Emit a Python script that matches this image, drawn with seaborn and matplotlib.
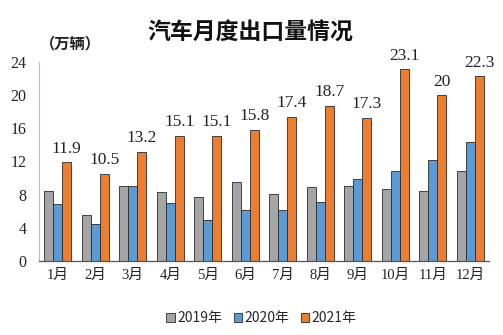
import matplotlib
matplotlib.use("Agg")
import matplotlib.pyplot as plt
import seaborn as sns
import pandas as pd
from matplotlib.patches import Patch

months = ["1月", "2月", "3月", "4月", "5月", "6月", "7月", "8月", "9月", "10月", "11月", "12月"]
years = ["2019年", "2020年", "2021年"]
v2019 = [8.4, 5.6, 9.0, 8.3, 7.7, 9.5, 8.1, 8.9, 9.0, 8.7, 8.4, 10.8]
v2020 = [6.9, 4.5, 9.1, 7.0, 5.0, 6.2, 6.2, 7.1, 9.9, 10.9, 12.2, 14.4]
v2021 = [11.9, 10.5, 13.2, 15.1, 15.1, 15.8, 17.4, 18.7, 17.3, 23.1, 20, 22.3]
labels2021 = ["11.9", "10.5", "13.2", "15.1", "15.1", "15.8", "17.4", "18.7", "17.3", "23.1", "20", "22.3"]
yticks = [0, 4, 8, 12, 16, 20, 24]
colors = ["#a5a5a5", "#5b9bd5", "#ed7d31"]

sns.set_style("white")
cjk = ["Noto Sans CJK SC", "DejaVu Sans"]
plt.rcParams["font.family"] = cjk

rows = []
for y, vals in zip(years, [v2019, v2020, v2021]):
    for m, v in zip(months, vals):
        rows.append({"month": m, "year": y, "value": v})
df = pd.DataFrame(rows)

fig = plt.figure(figsize=(5.03, 3.35), dpi=100)
ax = fig.add_axes([0.0775, 0.221, 0.8945, 0.594])
sns.barplot(data=df, x="month", y="value", hue="year", palette=colors,
            width=0.72, gap=0, edgecolor="#2a2a2a", linewidth=0.6,
            ax=ax, legend=False, saturation=1)

ax.set_xlim(-0.5, 11.5)
ax.set_ylim(0, 24)
ax.set_yticks(yticks)
ax.set_yticklabels([str(t) for t in yticks], family=["Liberation Serif"], fontsize=11.5, color="#222222")
ax.set_xticks(range(len(months)))
ax.set_xticklabels(months, fontsize=10.5, color="#222222", family=["Liberation Serif", "Noto Sans CJK SC"])
ax.tick_params(axis="y", length=0, pad=9)
ax.tick_params(axis="x", length=0, pad=6)
ax.set_xlabel("")
ax.set_ylabel("")
for s in ["top", "right"]:
    ax.spines[s].set_visible(False)
ax.spines["left"].set_color("#bbbbbb")
ax.spines["left"].set_linewidth(0.8)
ax.spines["bottom"].set_color("#555555")
ax.spines["bottom"].set_linewidth(0.9)

# labels above 2021 bars
orange_bars = ax.containers[2]
for rect, lab in zip(orange_bars, labels2021):
    x = rect.get_x() + rect.get_width() / 2
    h = rect.get_height()
    ax.annotate(lab, (x, h), xytext=(0, 4), textcoords="offset points",
                ha="center", va="bottom", fontsize=12.5, family=["Liberation Serif"], color="#222222")

fig.text(0.497, 0.9, "汽车月度出口量情况", ha="center", va="center",
         fontsize=16.5, fontweight="bold", color="#111111")
fig.text(0.08, 0.87, "（万辆）", ha="left", va="center", fontsize=11,
         fontweight="bold", color="#222222")

handles = [Patch(facecolor=c, edgecolor="#2a2a2a", linewidth=0.6) for c in colors]
fig.legend(handles, years, loc="center", bbox_to_anchor=(0.52, 0.05), ncol=3,
           frameon=False, fontsize=10, handlelength=0.6, handleheight=0.6,
           handletextpad=0.2, columnspacing=0.8)

fig.savefig("out.png", dpi=100)
